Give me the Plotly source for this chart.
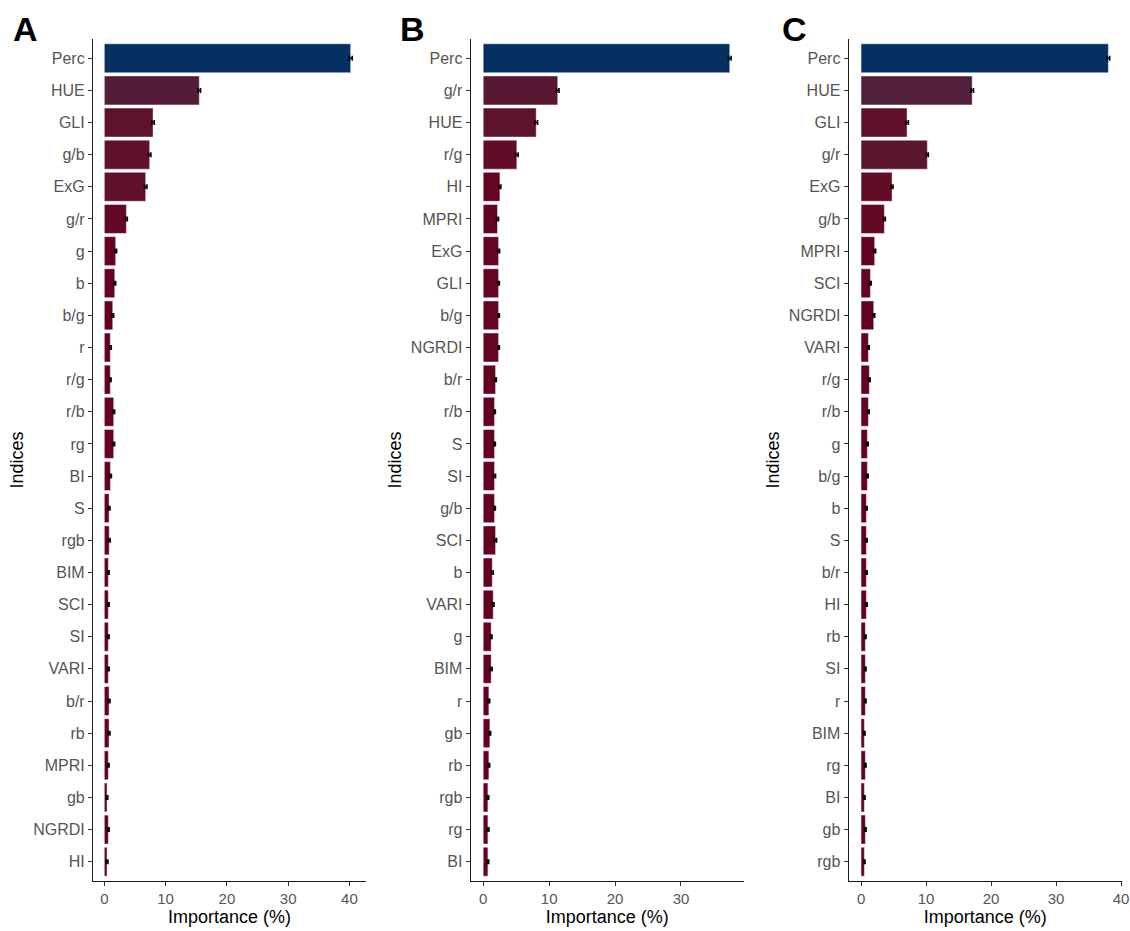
import plotly.graph_objects as go
from plotly.subplots import make_subplots

# ---- data: variable importance (%) per model, in display order (top -> bottom)
indices_a = ["Perc", "HUE", "GLI", "g/b", "ExG", "g/r", "g", "b", "b/g", "r", "r/g", "r/b", "rg",
             "BI", "S", "rgb", "BIM", "SCI", "SI", "VARI", "b/r", "rb", "MPRI", "gb", "NGRDI", "HI"]
importance_a = [40.2, 15.5, 7.95, 7.4, 6.75, 3.6, 1.85, 1.7, 1.37, 0.98, 0.98, 1.53, 1.53,
                1.0, 0.77, 0.8, 0.65, 0.65, 0.65, 0.65, 0.77, 0.77, 0.65, 0.44, 0.65, 0.44]
error_a = [0.25, 0.2, 0.2, 0.2, 0.2, 0.15, 0.15, 0.15, 0.15, 0.15, 0.12, 0.15, 0.15,
           0.15, 0.15, 0.15, 0.12, 0.12, 0.12, 0.12, 0.15, 0.15, 0.12, 0.12, 0.12, 0.15]

indices_b = ["Perc", "g/r", "HUE", "r/g", "HI", "MPRI", "ExG", "GLI", "b/g", "NGRDI", "b/r", "r/b", "S",
             "SI", "g/b", "SCI", "b", "VARI", "g", "BIM", "r", "gb", "rb", "rgb", "rg", "BI"]
importance_b = [37.4, 11.3, 8.04, 5.1, 2.53, 2.17, 2.33, 2.33, 2.33, 2.33, 1.87, 1.72, 1.72,
                1.72, 1.72, 1.87, 1.37, 1.52, 1.21, 1.21, 0.86, 1.01, 0.86, 0.71, 0.71, 0.71]
error_b = [0.2, 0.2, 0.2, 0.2, 0.15, 0.15, 0.15, 0.12, 0.12, 0.12, 0.12, 0.12, 0.12,
           0.15, 0.12, 0.15, 0.15, 0.12, 0.12, 0.15, 0.12, 0.12, 0.12, 0.12, 0.15, 0.12]

indices_c = ["Perc", "HUE", "GLI", "g/r", "ExG", "g/b", "MPRI", "SCI", "NGRDI", "VARI", "r/g", "r/b", "g",
             "b/g", "b", "S", "b/r", "HI", "rb", "SI", "r", "BIM", "rg", "BI", "gb", "rgb"]
importance_c = [38.05, 17.1, 7.08, 10.2, 4.77, 3.59, 2.1, 1.44, 1.95, 1.13, 1.28, 1.13, 0.97,
                0.97, 0.82, 0.82, 0.82, 0.82, 0.67, 0.67, 0.67, 0.51, 0.67, 0.51, 0.67, 0.51]
error_c = [0.2, 0.2, 0.2, 0.15, 0.15, 0.15, 0.15, 0.12, 0.15, 0.12, 0.12, 0.12, 0.12,
           0.12, 0.12, 0.12, 0.12, 0.12, 0.1, 0.1, 0.1, 0.1, 0.1, 0.1, 0.1, 0.1]

panel_labels = ["A", "B", "C"]
x_ranges = [[-1.85, 42.7], [-1.9, 39.56], [-1.9, 40.1]]

LOW_COLOR = "#67001F"
HIGH_COLOR = "#053061"


# ---- colour gradient interpolated in CIE Lab (like a sequential fill gradient)
def _hex_to_rgb(h):
    h = h.lstrip("#")
    return [int(h[i:i + 2], 16) / 255.0 for i in (0, 2, 4)]


def _lin(c):
    return c / 12.92 if c <= 0.04045 else ((c + 0.055) / 1.055) ** 2.4


def _delin(c):
    c = max(0.0, min(1.0, c))
    return 12.92 * c if c <= 0.0031308 else 1.055 * c ** (1 / 2.4) - 0.055


WHITE = (0.95047, 1.0, 1.08883)


def _rgb_to_lab(rgb):
    r, g, b = [_lin(c) for c in rgb]
    x = 0.4124564 * r + 0.3575761 * g + 0.1804375 * b
    y = 0.2126729 * r + 0.7151522 * g + 0.0721750 * b
    z = 0.0193339 * r + 0.1191920 * g + 0.9503041 * b

    def f(t):
        return t ** (1 / 3) if t > 216 / 24389 else (24389 / 27 * t + 16) / 116

    fx, fy, fz = f(x / WHITE[0]), f(y / WHITE[1]), f(z / WHITE[2])
    return [116 * fy - 16, 500 * (fx - fy), 200 * (fy - fz)]


def _lab_to_rgb(lab):
    L, a, b = lab
    fy = (L + 16) / 116
    fx = fy + a / 500
    fz = fy - b / 200

    def finv(t):
        return t ** 3 if t ** 3 > 216 / 24389 else (116 * t - 16) / (24389 / 27)

    x, y, z = finv(fx) * WHITE[0], finv(fy) * WHITE[1], finv(fz) * WHITE[2]
    r = 3.2404542 * x - 1.5371385 * y - 0.4985314 * z
    g = -0.9692660 * x + 1.8760108 * y + 0.0415560 * z
    bb = 0.0556434 * x - 0.2040259 * y + 1.0572252 * z
    return [_delin(c) for c in (r, g, bb)]


LAB_LOW = _rgb_to_lab(_hex_to_rgb(LOW_COLOR))
LAB_HIGH = _rgb_to_lab(_hex_to_rgb(HIGH_COLOR))


def gradient_colors(values):
    lo, hi = min(values), max(values)
    out = []
    for v in values:
        t = (v - lo) / (hi - lo) if hi > lo else 0.0
        lab = [LAB_LOW[i] + (LAB_HIGH[i] - LAB_LOW[i]) * t for i in range(3)]
        r, g, b = _lab_to_rgb(lab)
        out.append("#%02x%02x%02x" % (round(r * 255), round(g * 255), round(b * 255)))
    return out


# ---- figure
FONT = "Liberation Sans, Arial, sans-serif"
W, H = 1130, 931

fig = make_subplots(rows=1, cols=3, horizontal_spacing=0.05)

panels = [
    (indices_a, importance_a, error_a),
    (indices_b, importance_b, error_b),
    (indices_c, importance_c, error_c),
]

x_domains_px = [(93, 366), (470.7, 744), (848.7, 1121.7)]
y_domain = [1 - 881 / H, 1 - 39 / H]

for k, (names, vals, errs) in enumerate(panels):
    col = k + 1
    fig.add_trace(
        go.Bar(
            x=vals,
            y=names,
            orientation="h",
            width=0.9,
            marker=dict(color=gradient_colors(vals),
                        line=dict(color="rgba(255,255,255,0.55)", width=0.8)),
            error_x=dict(type="data", array=errs, visible=True,
                         color="black", thickness=1.6, width=2.5),
            showlegend=False,
            hoverinfo="x+y",
        ),
        row=1, col=col,
    )
    x0, x1 = x_domains_px[k]
    fig.update_xaxes(
        domain=[x0 / W, x1 / W],
        range=x_ranges[k],
        tickmode="linear", tick0=0, dtick=10,
        ticks="outside", ticklen=4, tickwidth=1, tickcolor="#333333",
        showline=True, linecolor="#1a1a1a", linewidth=1.2,
        showgrid=False, zeroline=False,
        tickfont=dict(family=FONT, size=15, color="#555555"),
        title=dict(text="Importance (%)", standoff=3,
                   font=dict(family=FONT, size=18, color="black")),
        automargin=False,
        row=1, col=col,
    )
    fig.update_yaxes(
        domain=y_domain,
        type="category",
        categoryorder="array", categoryarray=names,
        range=[len(names) - 0.4, -0.6],
        ticks="outside", ticklen=4, tickwidth=1, tickcolor="#333333",
        showline=True, linecolor="#1a1a1a", linewidth=1.2,
        showgrid=False, zeroline=False,
        tickfont=dict(family=FONT, size=16, color="#555555"),
        title=dict(text="Indices", standoff=4,
                   font=dict(family=FONT, size=18, color="black")),
        automargin=False,
        row=1, col=col,
    )

letter_x_px = [25, 412, 794]
for lab, xp in zip(panel_labels, letter_x_px):
    fig.add_annotation(
        text="<b>%s</b>" % lab, x=xp / W, y=1 - 29 / H,
        xref="paper", yref="paper", xanchor="center", yanchor="middle",
        showarrow=False, font=dict(family=FONT, size=34, color="black"),
    )

fig.update_layout(
    width=W, height=H,
    margin=dict(l=0, r=0, t=0, b=0),
    plot_bgcolor="white", paper_bgcolor="white",
    bargap=0.1,
)

fig.write_html("out.html")
